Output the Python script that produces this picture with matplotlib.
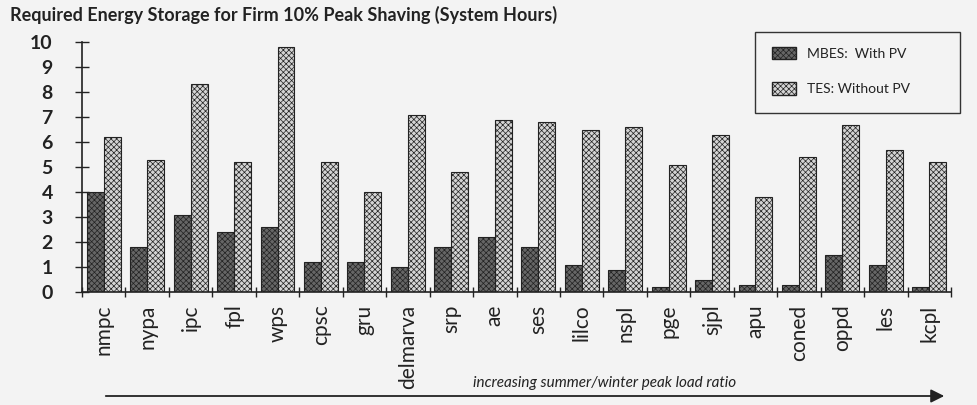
import numpy as np
import matplotlib
matplotlib.use("Agg")
import matplotlib.pyplot as plt
from matplotlib.patches import Patch, Rectangle

categories = ["nmpc", "nypa", "ipc", "fpl", "wps", "cpsc", "gru", "delmarva", "srp", "ae",
              "ses", "lilco", "nspl", "pge", "sjpl", "apu", "coned", "oppd", "les", "kcpl"]
mbes = [4.0, 1.8, 3.1, 2.4, 2.6, 1.2, 1.2, 1.0, 1.8, 2.2,
        1.8, 1.1, 0.9, 0.2, 0.5, 0.3, 0.3, 1.5, 1.1, 0.2]
tes = [6.2, 5.3, 8.3, 5.2, 9.8, 5.2, 4.0, 7.1, 4.8, 6.9,
       6.8, 6.5, 6.6, 5.1, 6.3, 3.8, 5.4, 6.7, 5.7, 5.2]
yticks = list(range(0, 11))
title = "Required Energy Storage for Firm 10% Peak Shaving (System Hours)"
legend_labels = ["MBES:  With PV", "TES: Without PV"]
arrow_text = "increasing summer/winter peak load ratio"

plt.rcParams['hatch.linewidth'] = 0.5
plt.rcParams['hatch.color'] = '#222222'
plt.rcParams['font.family'] = ['Lato', 'DejaVu Sans']

bg = '#f3f3f3'
dark = '#222222'
W, H = 977, 405
fig = plt.figure(figsize=(9.77, 4.05), dpi=100, facecolor=bg)
ax = fig.add_axes([82/W, 1-292/H, (951-82)/W, (292-42)/H])
ax.set_facecolor(bg)

x = np.arange(len(categories)) + 0.5
w = 0.39
ax.bar(x - w/2, mbes, w, facecolor='#666666', edgecolor=dark, hatch='xxxxxx', linewidth=0.8)
ax.bar(x + w/2, tes, w, facecolor='#d4d4d4', edgecolor=dark, hatch='xxxxxx', linewidth=0.8)

ax.set_xlim(0, len(categories))
ax.set_ylim(0, 10)
ax.set_yticks(yticks)
ax.set_yticklabels([str(t) for t in yticks], fontsize=14, fontweight='bold', color=dark)
ax.set_xticks(np.arange(len(categories) + 1))
ax.set_xticklabels([])
ax.set_xticks(x, minor=True)
ax.set_xticklabels(categories, minor=True, rotation=90, fontsize=15, color=dark, va='top')
ax.tick_params(axis='x', which='minor', length=0, pad=9)
ax.tick_params(axis='x', which='major', direction='inout', length=7, width=1, color=dark)
ax.tick_params(axis='y', direction='inout', length=10, width=1, color=dark, pad=16)
for s in ['top', 'right']:
    ax.spines[s].set_visible(False)
for s in ['left', 'bottom']:
    ax.spines[s].set_color(dark)
    ax.spines[s].set_linewidth(1.2)

fig.text(10/W, 1-15/H, title, fontsize=13, fontweight='bold', color=dark, va='center', ha='left')

# legend frame drawn as a rectangle in figure coords
fig.add_artist(Rectangle((755/W, 1-113/H), (960-755)/W, (113-32)/H, transform=fig.transFigure,
                         facecolor=bg, edgecolor='#333333', linewidth=1.0, zorder=1))
handles = [Patch(facecolor='#666666', edgecolor=dark, hatch='xxxxxx'),
           Patch(facecolor='#d4d4d4', edgecolor=dark, hatch='xxxxxx')]
leg = fig.legend(handles, legend_labels, loc='upper left', bbox_to_anchor=(765/W, 1-40/H),
                 frameon=False, fontsize=10, handlelength=1.7, handleheight=1.0, labelspacing=1.6,
                 borderpad=0.5, handletextpad=0.8, borderaxespad=0)
leg.set_zorder(2)
for t in leg.get_texts():
    t.set_color(dark)

fig.text(605/W, 1-383/H, arrow_text, fontsize=11, style='italic', color=dark, ha='center', va='center')
fig.add_artist(matplotlib.patches.FancyArrowPatch((103/W, 1-396/H), (947/W, 1-396/H),
               transform=fig.transFigure, arrowstyle='-|>', mutation_scale=20, color=dark, lw=1.3))

fig.savefig('out.png', dpi=100, facecolor=bg)
